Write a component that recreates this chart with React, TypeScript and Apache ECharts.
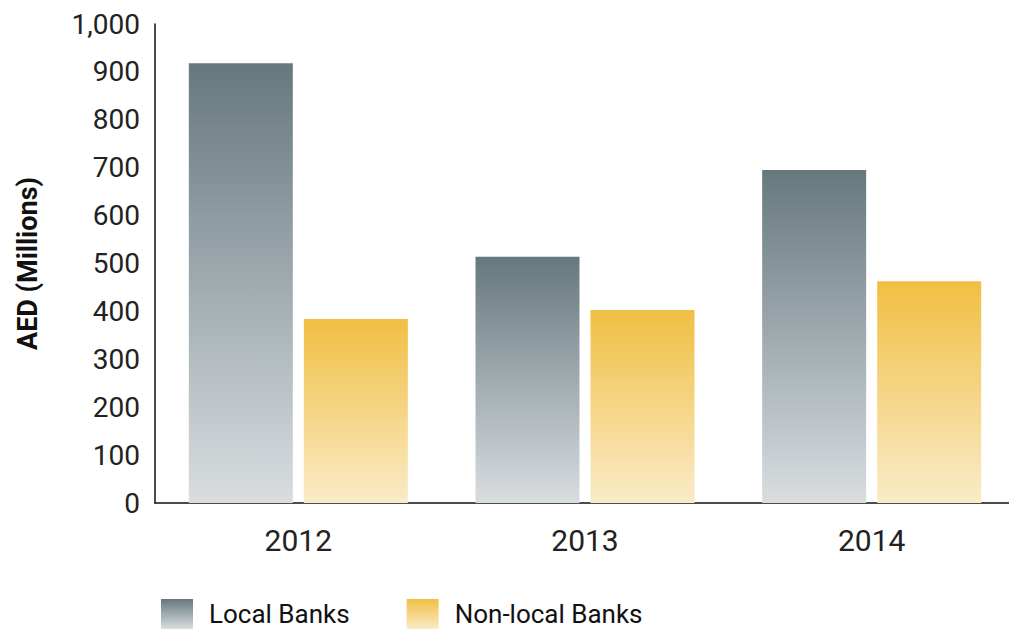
import React, { useEffect, useRef } from "react";
import * as echarts from "echarts";

const categories = ["2012", "2013", "2014"];
const localBanks = [918, 514, 695];
const nonLocalBanks = [384, 403, 463];
const yTicks = { min: 0, max: 1000, interval: 100 };

export default function App() {
  const ref = useRef<HTMLDivElement>(null);
  useEffect(() => {
    if (!ref.current) return;
    const chart = echarts.init(ref.current, null, { renderer: "svg" });
    const grad = (top: string, bottom: string) =>
      new echarts.graphic.LinearGradient(0, 0, 0, 1, [
        { offset: 0, color: top },
        { offset: 1, color: bottom },
      ]);
    chart.setOption({
      animation: false,
      textStyle: { fontFamily: "Roboto" },
      grid: { left: 155, right: 0, top: 24, bottom: 127, containLabel: false },
      legend: {
        left: 161,
        top: 599,
        padding: 0,
        itemWidth: 32,
        itemHeight: 30,
        itemGap: 57,
        icon: "rect",
        textStyle: {
          fontFamily: "Roboto",
          fontSize: 26,
          fontWeight: "normal",
          lineHeight: 26,
          color: "#111",
          padding: [0, 0, 0, 11],
        },
        data: ["Local Banks", "Non-local Banks"],
      },
      xAxis: {
        type: "category",
        data: categories,
        axisLine: { show: true, lineStyle: { color: "#111", width: 1.5 } },
        axisTick: { show: false },
        axisLabel: { fontSize: 30, color: "#222", margin: 22, fontFamily: "Roboto" },
      },
      yAxis: {
        type: "value",
        min: yTicks.min,
        max: yTicks.max,
        interval: yTicks.interval,
        name: "AED (Millions)",
        nameLocation: "middle",
        nameGap: 114,
        nameRotate: 90,
        nameTextStyle: { fontSize: 27, fontWeight: "bold", color: "#111", fontFamily: "Roboto" },
        axisLine: { show: true, lineStyle: { color: "#111", width: 1.5 } },
        axisTick: { show: false },
        splitLine: { show: false },
        axisLabel: {
          fontSize: 28,
          color: "#222",
          margin: 15,
          fontFamily: "Roboto",
          formatter: (v: number) => v.toLocaleString("en-US"),
        },
      },
      series: [
        {
          name: "Local Banks",
          type: "bar",
          data: localBanks,
          barWidth: 104,
          barGap: "10.6%",
          itemStyle: { color: grad("#66787e", "#d9dde0") },
        },
        {
          name: "Non-local Banks",
          type: "bar",
          data: nonLocalBanks,
          barWidth: 104,
          itemStyle: { color: grad("#f0bf43", "#faebc8") },
        },
      ],
    });
    return () => chart.dispose();
  }, []);
  return (
    <div
      style={{ position: "absolute", left: 0, top: 0, width: 1009, height: 630, overflow: "hidden", background: "#fff" }}
    >
      <div ref={ref} style={{ width: 1015, height: 630 }} />
    </div>
  );
}
